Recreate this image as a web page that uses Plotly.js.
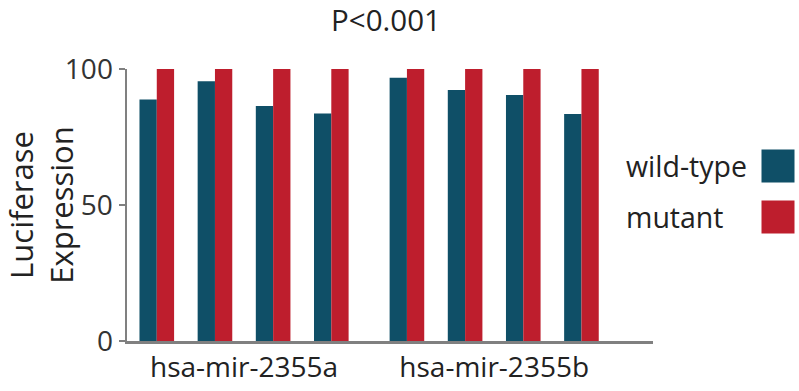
<!DOCTYPE html>
<html>
<head>
<meta charset="utf-8">
<script src="https://cdn.plot.ly/plotly-3.0.1.min.js"></script>
<style>html,body{margin:0;padding:0;background:#fff;}#chart{width:799px;height:391px;}</style>
</head>
<body>
<div id="chart"></div>
<script>
// ---- data ----
const groupNames = ["hsa-mir-2355a", "hsa-mir-2355b"];
const barsPerGroup = [4, 4];
const wildType = [88.8, 95.5, 86.4, 83.6, 96.8, 92.3, 90.4, 83.5];
const mutant = [100, 100, 100, 100, 100, 100, 100, 100];
const seriesNames = ["wild-type", "mutant"];
const seriesColors = ["#0f4f67", "#be1e2d"];
const titleText = "P<0.001";
const yTitle = "Luciferase<br>Expression";
const yTicks = [0, 50, 100];

// ---- positions (index-based, extra gap between groups) ----
const groupGap = 0.3;
const xPos = [];
const tickVals = [];
let idx = 0;
barsPerGroup.forEach((n, g) => {
  const arr = [];
  for (let k = 0; k < n; k++) { xPos.push(idx + g * groupGap); arr.push(idx + g * groupGap); idx++; }
  tickVals.push((arr[0] + arr[arr.length - 1]) / 2);
});

const font = "Open Sans, Noto Sans, sans-serif";
const traces = [
  {type: "bar", x: xPos, y: wildType, name: seriesNames[0], marker: {color: seriesColors[0]}, showlegend: false, hoverinfo: "skip"},
  {type: "bar", x: xPos, y: mutant, name: seriesNames[1], marker: {color: seriesColors[1]}, showlegend: false, hoverinfo: "skip"}
];

const legendY = [0.645, 0.455];
const annotations = [];
seriesNames.forEach((nm, i) => {
  annotations.push({xref: "paper", yref: "paper", x: 0.945, y: legendY[i], xanchor: "left", yanchor: "middle",
    text: nm, showarrow: false, font: {family: font, size: 28.5, color: "#222"}});
  annotations.push({xref: "paper", yref: "paper", x: 1.2375, y: legendY[i], xanchor: "center", yanchor: "middle",
    text: " ", showarrow: false, width: 32, height: 32, bgcolor: seriesColors[i], borderpad: 0, font: {size: 4}});
});

const layout = {
  width: 799, height: 391,
  margin: {l: 127, r: 146, t: 69, b: 50, pad: 0},
  paper_bgcolor: "#fff", plot_bgcolor: "#fff",
  barmode: "group", bargap: 0.405, bargroupgap: 0,
  title: {text: titleText, x: 386/799, xref: "container", xanchor: "center", y: 1 - 21/391, yref: "container", yanchor: "middle",
    font: {family: font, size: 29.5, color: "#222"}},
  xaxis: {range: [-0.512, 8.53], showgrid: false, zeroline: false, showline: true, linecolor: "#808080", linewidth: 2.5,
    tickvals: tickVals, ticktext: groupNames, ticks: "", tickfont: {family: font, size: 28, color: "#222"}},
  yaxis: {range: [0, 100], showgrid: false, zeroline: false, showline: true, linecolor: "#808080", linewidth: 2.5,
    tickvals: yTicks, ticks: "outside", ticklen: 6, tickwidth: 2, tickcolor: "#808080",
    tickfont: {family: font, size: 28, color: "#333"},
    title: {text: yTitle, font: {family: font, size: 31, color: "#222"}, standoff: 4}},
  annotations: annotations
};

Plotly.newPlot("chart", traces, layout, {staticPlot: true, displayModeBar: false});
</script>
</body>
</html>
